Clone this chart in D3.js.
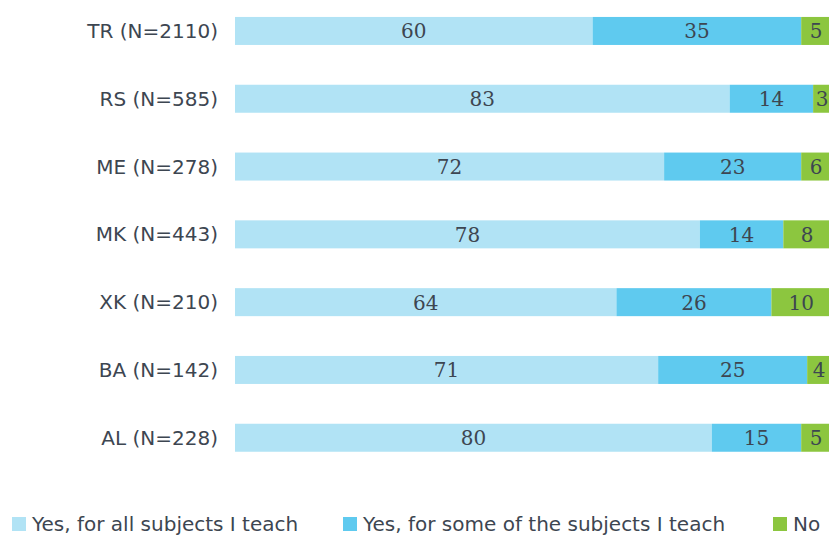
<!DOCTYPE html>
<html><head><meta charset="utf-8">
<script src="https://cdn.jsdelivr.net/npm/d3@7"></script>
<style>body{margin:0;background:#fff;overflow:hidden}svg{display:block}</style>
</head><body><svg id="c" width="829" height="535"></svg>
<script>
const categories = ["TR (N=2110)","RS (N=585)","ME (N=278)","MK (N=443)","XK (N=210)","BA (N=142)","AL (N=228)"];
const seriesNames = ["Yes, for all subjects I teach","Yes, for some of the subjects I teach","No"];
const allSubjects = [60,83,72,78,64,71,80];
const someSubjects = [35,14,23,14,26,25,15];
const noValues = [5,3,6,8,10,4,5];
const colors = ["#b1e3f5","#5fcaef","#8cc63f"];

const W = 829;
const svg = d3.select("#c");
const x = d3.scaleLinear().domain([0,100]).range([235,831]);
const y = d3.scaleBand().domain(categories).range([0,468.7]).paddingInner(0.587).paddingOuter(0.25);
const textColor = "#3d4651";

const stackData = categories.map((c,i)=>({cat:c, s0:allSubjects[i], s1:someSubjects[i], s2:noValues[i]}));
const stack = d3.stack().keys(["s0","s1","s2"])(stackData);

stack.forEach((layer,k)=>{
  const g = svg.append("g");
  g.selectAll("rect").data(layer).join("rect")
    .attr("x",d=>x(d[0])).attr("width",d=>x(d[1])-x(d[0]))
    .attr("y",d=>y(d.data.cat)).attr("height",y.bandwidth())
    .attr("fill",colors[k]);
  g.selectAll("text").data(layer).join("text")
    .attr("x",d=>(x(d[0])+Math.min(x(d[1]),W+2))/2)
    .attr("y",d=>y(d.data.cat)+y.bandwidth()/2+7.5)
    .attr("text-anchor","middle")
    .attr("font-family","DejaVu Serif, serif")
    .attr("font-size",20).attr("fill",textColor)
    .text(d=>d[1]-d[0]);
});

const yAxis = d3.axisLeft(y).tickSize(0).tickPadding(17);
const ga = svg.append("g").attr("transform","translate(235,0)").call(yAxis);
ga.select(".domain").remove();
ga.selectAll("text").attr("font-family","DejaVu Sans, sans-serif").attr("font-size",20)
  .attr("fill",textColor).attr("dy",null).attr("y",7);

const legX = [12,343,773];
const leg = svg.append("g");
seriesNames.forEach((n,i)=>{
  leg.append("rect").attr("x",legX[i]).attr("y",517).attr("width",14).attr("height",14).attr("fill",colors[i]);
  leg.append("text").attr("x",legX[i]+20).attr("y",531).attr("font-family","DejaVu Sans, sans-serif")
    .attr("font-size",20).attr("fill",textColor).text(n);
});
</script></body></html>
